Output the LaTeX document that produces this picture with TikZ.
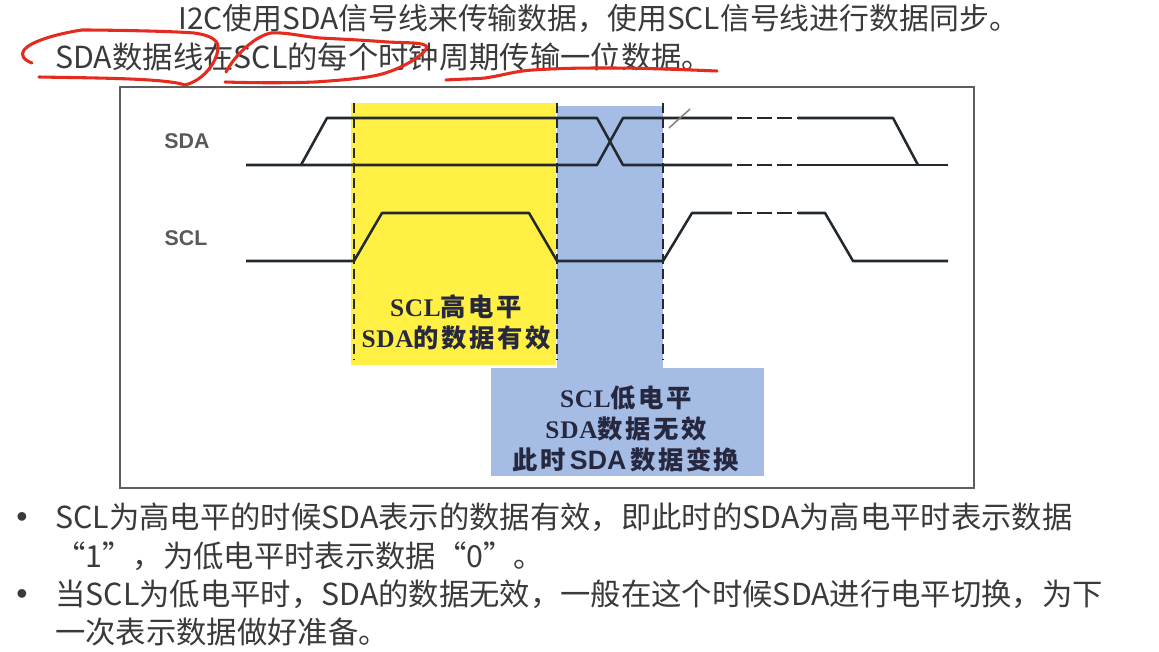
\documentclass[tikz,border=0pt]{standalone}
\usepackage{fontspec}
\setmainfont{Noto Sans CJK SC}
\newfontfamily\serifcjk[LetterSpace=10]{Noto Sans CJK SC}
\newfontfamily\serifla[LetterSpace=3]{Liberation Serif}
\newfontfamily\sansla{Liberation Sans}
\definecolor{txt}{HTML}{3A3A3A}
\definecolor{boxedge}{HTML}{5E5E5E}
\definecolor{sig}{HTML}{222A30}
\definecolor{hiY}{HTML}{FFF043}
\definecolor{hiB}{HTML}{A5BCE4}
\definecolor{pen}{HTML}{E52A1E}
\definecolor{lab}{HTML}{26283F}
\newcommand{\La}[1]{{\serifla\bfseries #1}}
\newcommand{\Cj}[1]{{\serifcjk\bfseries #1}}
\tikzset{
  body/.style={anchor=base west,inner sep=0pt,text=txt,font=\fontsize{22.75}{26}\selectfont},
  headline/.style={anchor=base west,inner sep=0pt,text=txt,font=\fontsize{22.4}{26}\selectfont},
  siglabel/.style={inner sep=0pt,text=black!65,font=\sansla\bfseries\fontsize{16}{18}\selectfont},
  zone/.style={inner sep=0pt,align=center,text=lab,font=\fontsize{19}{23.5}\selectfont},
  trace/.style={draw=sig,line width=1.9pt,line join=round},
  brk/.style={draw=sig,line width=1.9pt,dash pattern=on 11.3pt off 3.7pt},
  guide/.style={draw=sig,line width=0.9pt,dash pattern=on 7.5pt off 3.8pt},
  redpen/.style={draw=pen,line width=2.3pt,line cap=round,line join=round},
}
\begin{document}
\begin{tikzpicture}[x=0.75pt,y=-0.75pt]
\useasboundingbox (0,0) rectangle (1159,652);
% panel and highlight zones
\draw[boxedge,line width=1.1pt] (120,87) rectangle (974,488);
\fill[hiY] (351,103) rectangle (556,365);
\fill[hiB] (557,106) rectangle (663,369);
\fill[hiB] (491,368) rectangle (764,476);
% guides
\coordinate (gaT) at (354,103); \coordinate (gaB) at (354,360);
\coordinate (gbT) at (557,103); \coordinate (gbB) at (557,360);
\coordinate (gcT) at (663,103); \coordinate (gcB) at (663,360);
\draw[guide] (gaT) -- (gaB);
\draw[guide] (gbT) -- (gbB);
\draw[guide] (gcT) -- (gcB);
% SDA trace
\coordinate (d0) at (246,165); \coordinate (d1) at (301,165); \coordinate (d2) at (327,118);
\coordinate (d3) at (597,118); \coordinate (d4) at (623,165); \coordinate (d5) at (597,165);
\coordinate (d6) at (623,118); \coordinate (d7) at (732,118); \coordinate (d8) at (798,118);
\coordinate (d9) at (893,118); \coordinate (d10) at (918,165); \coordinate (d11) at (732,165);
\coordinate (d12) at (798,165); \coordinate (d13) at (948,165);
\draw[trace] (d1) -- (d2) -- (d3) -- (d4) -- (d11);
\draw[trace] (d0) -- (d5) -- (d6) -- (d7);
\draw[brk] (d7) ++(5,0) -- (d8);
\draw[brk] (d11) ++(5,0) -- (d12);
\draw[trace] (d8) -- (d9) -- (d10);
\draw[trace] (d12) -- (d13);
% SCL trace
\coordinate (c0) at (246,261); \coordinate (c1) at (354,261); \coordinate (c2) at (382,213);
\coordinate (c3) at (529,213); \coordinate (c4) at (557,261); \coordinate (c5) at (663,261);
\coordinate (c6) at (692,213); \coordinate (c7) at (732,213); \coordinate (c8) at (798,213);
\coordinate (c9) at (825,213); \coordinate (c10) at (853,261); \coordinate (c11) at (948,261);
\draw[trace] (c0) -- (c1) -- (c2) -- (c3) -- (c4) -- (c5) -- (c6) -- (c7);
\draw[brk] (c7) ++(5,0) -- (c8);
\draw[trace] (c8) -- (c9) -- (c10) -- (c11);
% slash
\coordinate (s0) at (669,128); \coordinate (s1) at (690,109);
\draw[gray,line width=1.1pt] (s0) -- (s1);
% labels
\node[siglabel] (lsda) at (187,141) {SDA};
\node[siglabel] (lscl) at (186,238) {SCL};
\node[zone] (zy) at (456,322) {\La{SCL}\Cj{高电平}\\\La{SDA}\Cj{的数据有效}};
\node[zone] (zb) at (626,429) {\La{SCL}\Cj{低电平}\\\La{SDA}\Cj{数据无效}\\\Cj{此时}\hspace{3pt}{\sansla\bfseries\fontsize{20}{23.5}\selectfont SDA}\hspace{3pt}\Cj{数据变换}};
% text
\node[headline] (t1) at (178,30) {I2C使用SDA信号线来传输数据，使用SCL信号线进行数据同步。};
\node[body] (t2) at (55,69) {SDA数据线在SCL的每个时钟周期传输一位数据。};
\node[body,font=\sansla\fontsize{24}{26}\selectfont] (b1) at (16,527) {•};
\node[body] (p1) at (55,528) {SCL为高电平的时候SDA表示的数据有效，即此时的SDA为高电平时表示数据};
\node[body] (p2) at (55,567) {“1”，为低电平时表示数据“0”。};
\node[body,font=\sansla\fontsize{24}{26}\selectfont] (b2) at (16,604) {•};
\node[body] (p3) at (55,605) {当SCL为低电平时，SDA的数据无效，一般在这个时候SDA进行电平切换，为下};
\node[body] (p4) at (55,643) {一次表示数据做好准备。};
% red annotations
\draw[redpen] (32,63) .. controls (24,60) and (20,55) .. (24,50) .. controls (30,42) and (55,34) .. (82,30)
  .. controls (105,30) and (170,31) .. (194,33) .. controls (210,35) and (218,40) .. (218,47)
  .. controls (218,60) and (205,80) .. (185,85) .. controls (165,78) and (90,78) .. (39,77);
\draw[redpen] (225,82) .. controls (255,83) and (290,83) .. (315,82) .. controls (345,80) and (365,78) .. (378,75)
  .. controls (400,70) and (425,55) .. (427,47) .. controls (425,42) and (405,43) .. (388,42)
  .. controls (360,40) and (340,39) .. (320,38) .. controls (300,36) and (285,32) .. (271,33)
  .. controls (255,36) and (235,55) .. (226,72);
\draw[redpen] (446,80) .. controls (460,79) and (475,79) .. (485,78) .. controls (505,75) and (515,71) .. (533,70)
  .. controls (560,68) and (590,68) .. (606,68) .. controls (650,68) and (690,70) .. (717,71);
\end{tikzpicture}
\end{document}
